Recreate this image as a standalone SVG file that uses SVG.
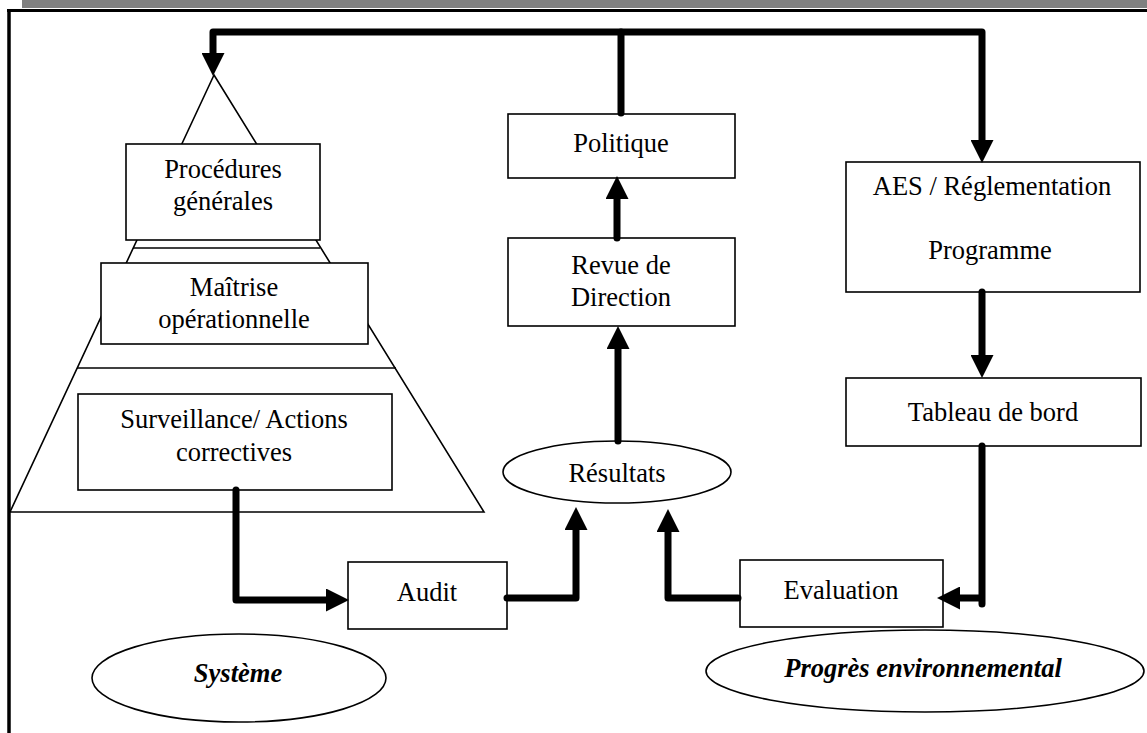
<svg xmlns="http://www.w3.org/2000/svg" width="1147" height="733" viewBox="0 0 1147 733">
  <style>
    .box { fill: #ffffff; stroke: #000000; stroke-width: 1.6; }
    .thin { fill: none; stroke: #000000; stroke-width: 1.6; }
    text { font-family: 'Liberation Serif', 'Times New Roman', Tinos, 'DejaVu Serif', serif; font-size: 26.5px; fill: #000000; text-anchor: middle; }
    .em { font-weight: bold; font-style: italic; }
    .flow { fill: none; stroke: #000000; stroke-width: 7; stroke-linecap: round; stroke-linejoin: round; }
  </style>
  <defs>
    <marker id="head" viewBox="0 0 23 23" markerWidth="23" markerHeight="23" refX="0" refY="11.5" orient="auto" markerUnits="userSpaceOnUse">
      <path d="M0,0 L23,11.5 L0,23 Z" fill="#000000"/>
    </marker>
    <marker id="headStart" viewBox="0 0 23 23" markerWidth="23" markerHeight="23" refX="0" refY="11.5" orient="auto-start-reverse" markerUnits="userSpaceOnUse">
      <path d="M0,0 L23,11.5 L0,23 Z" fill="#000000"/>
    </marker>
  </defs>

  <!-- page frame -->
  <g id="frame">
    <rect x="22" y="0" width="1125" height="8" fill="#808080"/>
    <line x1="7" y1="10.5" x2="1147" y2="10.5" stroke="#000000" stroke-width="3"/>
    <line x1="9" y1="9" x2="9" y2="733" stroke="#000000" stroke-width="3.5"/>
  </g>

  <!-- pyramid of the management system -->
  <g id="pyramid">
    <polygon class="thin" points="214,75 10,512 484,512"/>
    <line class="thin" x1="133" y1="248" x2="320" y2="248"/>
    <line class="thin" x1="77" y1="368" x2="396" y2="368"/>
  </g>

  <g id="procedures" font-family="Liberation Serif, serif">
    <rect class="box" x="126" y="144" width="194" height="96"/>
    <text x="223" y="178">Procédures</text>
    <text x="223" y="210">générales</text>
  </g>

  <g id="maitrise" font-family="Liberation Serif, serif">
    <rect class="box" x="101" y="263" width="267" height="81"/>
    <text x="234" y="296">Maîtrise</text>
    <text x="234" y="328">opérationnelle</text>
  </g>

  <g id="surveillance" font-family="Liberation Serif, serif">
    <rect class="box" x="78" y="394" width="314" height="96"/>
    <text x="234" y="428">Surveillance/ Actions</text>
    <text x="234" y="461">correctives</text>
  </g>

  <g id="politique" font-family="Liberation Serif, serif">
    <rect class="box" x="508" y="114" width="227" height="64"/>
    <text x="621" y="152">Politique</text>
  </g>

  <g id="revue" font-family="Liberation Serif, serif">
    <rect class="box" x="508" y="238" width="227" height="88"/>
    <text x="621" y="274">Revue de</text>
    <text x="621" y="306">Direction</text>
  </g>

  <g id="resultats" font-family="Liberation Serif, serif">
    <ellipse class="box" cx="617" cy="472" rx="114" ry="31"/>
    <text x="617" y="482">Résultats</text>
  </g>

  <g id="aes" font-family="Liberation Serif, serif">
    <rect class="box" x="846" y="162" width="294" height="130"/>
    <text x="992" y="195">AES / Réglementation</text>
    <text x="990" y="259">Programme</text>
  </g>

  <g id="tableau" font-family="Liberation Serif, serif">
    <rect class="box" x="846" y="378" width="295" height="68"/>
    <text x="993" y="421">Tableau de bord</text>
  </g>

  <g id="audit" font-family="Liberation Serif, serif">
    <rect class="box" x="348" y="562" width="159" height="67"/>
    <text x="427" y="601">Audit</text>
  </g>

  <g id="evaluation" font-family="Liberation Serif, serif">
    <rect class="box" x="740" y="560" width="203" height="67"/>
    <text x="841" y="599">Evaluation</text>
  </g>

  <g id="systeme" font-family="Liberation Serif, serif">
    <ellipse class="box" cx="239" cy="678" rx="147" ry="44"/>
    <text class="em" x="238" y="682">Système</text>
  </g>

  <g id="progres" font-family="Liberation Serif, serif">
    <ellipse class="box" cx="925" cy="671" rx="219" ry="41"/>
    <text class="em" x="923" y="677">Progrès environnemental</text>
  </g>

  <!-- connectors -->
  <g id="connectors">
    <path class="flow" d="M621,113 V32"/>
    <path class="flow" d="M213,53 V32 H982 V140" marker-start="url(#headStart)" marker-end="url(#head)"/>
    <path class="flow" d="M617,238 V199" marker-end="url(#head)"/>
    <path class="flow" d="M618,441 V349" marker-end="url(#head)"/>
    <path class="flow" d="M982,292 V355" marker-end="url(#head)"/>
    <path class="flow" d="M982,446 V604 M982,598 H960" marker-end="url(#head)"/>
    <path class="flow" d="M236,490 V600 H326" marker-end="url(#head)"/>
    <path class="flow" d="M507,598 H576 V530" marker-end="url(#head)"/>
    <path class="flow" d="M738,598 H668 V532" marker-end="url(#head)"/>
  </g>
</svg>
